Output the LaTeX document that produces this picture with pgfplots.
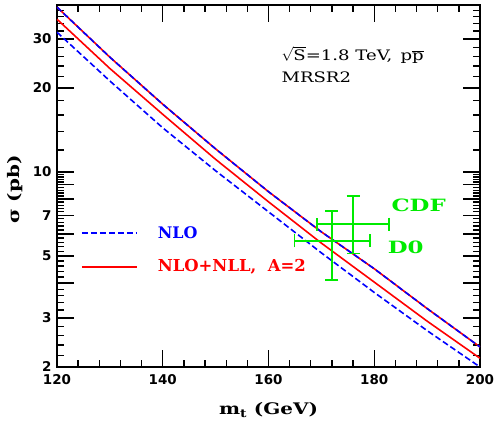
\documentclass[border=0pt]{standalone}
\usepackage{pgfplots}
\pgfplotsset{compat=1.18}
\usepackage{fontspec}
\setmainfont{DejaVu Serif}
\newfontfamily\tickfont{DejaVu Sans}
\newfontfamily\widefont{DejaVu Serif}[FakeStretch=1.25]
\newfontfamily\widerfont{DejaVu Serif}[FakeStretch=1.35]
\definecolor{nlo}{RGB}{0,0,255}
\definecolor{nll}{RGB}{255,0,0}
\definecolor{expt}{RGB}{0,235,0}

\pgfplotsset{tickline/.style={black, solid, line width=1.3bp, mark=none, forget plot}}

% sigma(ttbar) in pb vs m_t: upper edge (NLO and NLO+NLL coincide), lower NLO+NLL, lower NLO
\pgfplotstableread{
mt   upper  nlllow nlolow
120  39.0   35.3   31.7
130  25.8   23.5   21.2
140  17.5   16.1   14.4
150  12.1   11.1   10.1
160  8.5    7.82   7.2
170  6.1    5.56   5.13
180  4.5    4.03   3.7
190  3.24   2.92   2.70
200  2.36   2.15   2.0
}\xsec

\begin{document}
\begin{tikzpicture}
\begin{axis}[
  scale only axis, width=423bp, height=362bp,
  ymode=log, xmin=120, xmax=200, ymin=2, ymax=39.7,
  xtick={120,140,160,180,200},
  ytick={2,3,5,7,10,20,30},
  yticklabels={2,3,5,7,10,20,30},
  major tick length=0pt, minor tick length=0pt,
  axis line style={line width=1.5bp},
  tick label style={font=\tickfont\bfseries\fontsize{13.5}{15}\selectfont},
  xticklabel style={yshift=-4bp},
  yticklabel style={xshift=-2bp},
  xlabel={m\textsubscript{t} (GeV)},
  ylabel={σ (pb)},
  label style={font=\widefont\bfseries\fontsize{16}{18}\selectfont},
  xlabel style={at={(axis description cs:0.5,-0.119)}, anchor=center},
  ylabel style={at={(axis description cs:-0.1,0.49)}, anchor=center},
  /pgf/number format/assume math mode=true,
]
% tick marks as short plotted segments, inside, on all four sides
\pgfplotsinvokeforeach{140,160,180}{
  \addplot[tickline] coordinates {(#1,2) (#1,2.30)};
  \addplot[tickline] coordinates {(#1,39.7) (#1,34.5)};
}
\pgfplotsinvokeforeach{124,128,132,136,144,148,152,156,164,168,172,176,184,188,192,196}{
  \addplot[tickline] coordinates {(#1,2) (#1,2.119)};
  \addplot[tickline] coordinates {(#1,39.7) (#1,37.47)};
}
\pgfplotsinvokeforeach{3,4,5,6,7,8,9,10,20,30}{
  \addplot[tickline] coordinates {(120,#1) (123.2,#1)};
  \addplot[tickline] coordinates {(200,#1) (196.8,#1)};
}
\pgfplotsinvokeforeach{2.2,2.4,2.6,2.8,3.2,3.4,3.6,3.8,4.2,4.4,4.6,4.8,5.2,5.4,5.6,5.8,6.2,6.4,6.6,6.8,7.2,7.4,7.6,7.8,8.2,8.4,8.6,8.8,9.2,9.4,9.6,9.8,12,14,16,18,22,24,26,28,32,34,36,38}{
  \addplot[tickline] coordinates {(120,#1) (121.32,#1)};
  \addplot[tickline] coordinates {(200,#1) (198.68,#1)};
}

\addplot[nll, line width=1.6bp] table[x=mt, y=upper] {\xsec};
\addplot[nlo, line width=1.6bp, dash pattern=on 6bp off 3bp] table[x=mt, y=upper] {\xsec};
\addplot[nll, line width=1.6bp] table[x=mt, y=nlllow] {\xsec};
\addplot[nlo, line width=1.6bp, dash pattern=on 6bp off 3bp] table[x=mt, y=nlolow] {\xsec};

% legend lines
\addplot[nlo, line width=1.6bp, dash pattern=on 6bp off 3bp] coordinates {(124.7,6.04) (135.1,6.04)};
\addplot[nll, line width=1.6bp] coordinates {(124.7,4.56) (135.1,4.56)};
\node[anchor=west, text=nlo, font=\bfseries\fontsize{16}{18}\selectfont] at (axis cs:138.4,6.04) {NLO};
\node[anchor=west, text=nll, font=\bfseries\fontsize{16.5}{18}\selectfont] at (axis cs:138.4,4.56) {NLO+NLL,\ \ A=2};

% data points
\addplot[draw=none, mark=none,
  error bars/.cd, x dir=both, x explicit, y dir=both, y explicit,
  error bar style={solid, draw=expt, line width=1.6bp},
  error mark options={rotate=90, draw=expt, mark size=6.5bp, line width=1.6bp}
] coordinates {
  (176,6.5) += (6.8,1.7) -= (6.8,1.4)
  (172,5.66) += (7.2,1.58) -= (7.1,1.56)
};
\node[anchor=west, text=expt, font=\widerfont\bfseries\fontsize{17}{19}\selectfont] at (axis cs:182.6,7.61) {CDF};
\node[anchor=west, text=expt, font=\widerfont\bfseries\fontsize{17}{19}\selectfont] at (axis cs:181.9,5.38) {D0};

\node[anchor=west, font=\widefont\fontsize{14.5}{16}\selectfont] at (axis cs:161.8,26.3) {$\sqrt{\mbox{S}}$=1.8 TeV,\, p$\overline{\mbox{p}}$};
\node[anchor=west, font=\widefont\fontsize{14.5}{16}\selectfont] at (axis cs:161.8,21.9) {MRSR2};
\end{axis}
\pgfresetboundingbox
\path[use as bounding box] ([shift={(-57bp,-59bp)}]current axis.south west) rectangle ([shift={(18bp,5bp)}]current axis.north east);
\end{tikzpicture}
\end{document}
